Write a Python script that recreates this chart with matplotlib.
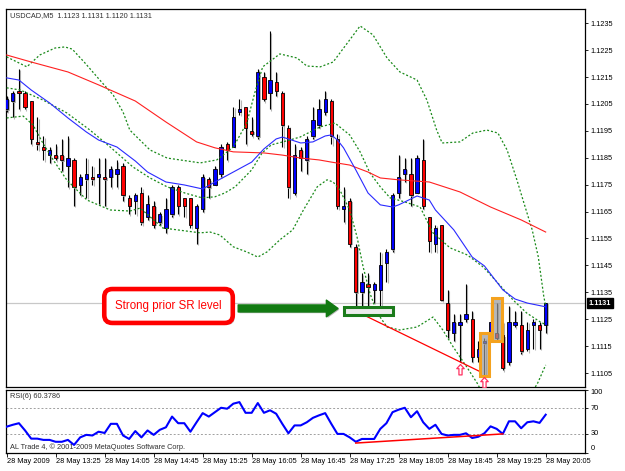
import matplotlib
matplotlib.use("Agg")
import matplotlib.pyplot as plt
import matplotlib.patheffects as pe
from matplotlib.patches import Rectangle
from matplotlib.path import Path
from matplotlib.transforms import blended_transform_factory
import numpy as np

plt.rcParams["font.family"] = ["Liberation Sans", "DejaVu Sans"]

# ── USDCAD M5, 28 May 2009 12:45 .. 20:05 ─────────────────────────────────
opens = [1.1203, 1.1206, 1.1210, 1.1209, 1.1206, 1.1191, 1.1189, 1.1186, 1.1186, 1.1186,
         1.1182, 1.1184, 1.1175, 1.1177, 1.1178, 1.1178, 1.1178, 1.1178, 1.1179, 1.1182,
         1.1170, 1.1169, 1.1172, 1.1163, 1.1167, 1.1161, 1.1159, 1.1164, 1.1174, 1.1170,
         1.1170, 1.1159, 1.1166, 1.1177, 1.1175, 1.1179, 1.1190, 1.1189, 1.1202, 1.1204,
         1.1195, 1.1193, 1.1215, 1.1209, 1.1213, 1.1209, 1.1196, 1.1172, 1.1188, 1.1184,
         1.1193, 1.1197, 1.1202, 1.1206, 1.1192, 1.1166, 1.1169, 1.1152, 1.1135, 1.1138,
         1.1136, 1.1136, 1.1146, 1.1151, 1.1172, 1.1179, 1.1179, 1.1172, 1.1184, 1.1163,
         1.1153, 1.1160, 1.1131, 1.1120, 1.1123, 1.1125, 1.1125, 1.1111, 1.1116, 1.1118,
         1.1120, 1.1119, 1.1109, 1.1123, 1.1123, 1.1114, 1.1123, 1.1123, 1.1123]
highs = [1.1208, 1.1210, 1.1218, 1.1210, 1.1206, 1.1200, 1.1193, 1.1189, 1.1190, 1.1192,
         1.1193, 1.1185, 1.1179, 1.1185, 1.1182, 1.1185, 1.1185, 1.1182, 1.1184, 1.1183,
         1.1171, 1.1172, 1.1174, 1.1171, 1.1169, 1.1165, 1.1170, 1.1175, 1.1175, 1.1170,
         1.1170, 1.1168, 1.1179, 1.1178, 1.1182, 1.1190, 1.1191, 1.1204, 1.1207, 1.1204,
         1.1200, 1.1218, 1.1217, 1.1232, 1.1217, 1.1210, 1.1197, 1.1190, 1.1189, 1.1193,
         1.1204, 1.1207, 1.1210, 1.1207, 1.1194, 1.1174, 1.1170, 1.1153, 1.1142, 1.1142,
         1.1139, 1.1150, 1.1151, 1.1172, 1.1186, 1.1185, 1.1185, 1.1186, 1.1192, 1.1163,
         1.1160, 1.1160, 1.1136, 1.1127, 1.1127, 1.1138, 1.1128, 1.1117, 1.1118, 1.1131,
         1.1131, 1.1124, 1.1130, 1.1128, 1.1128, 1.1124, 1.1125, 1.1124, 1.1131]
lows = [1.1202, 1.1200, 1.1203, 1.1203, 1.1190, 1.1188, 1.1184, 1.1183, 1.1184, 1.1180,
        1.1174, 1.1167, 1.1171, 1.1170, 1.1175, 1.1168, 1.1167, 1.1174, 1.1174, 1.1169,
        1.1164, 1.1164, 1.1160, 1.1162, 1.1159, 1.1160, 1.1157, 1.1163, 1.1164, 1.1163,
        1.1159, 1.1153, 1.1165, 1.1170, 1.1175, 1.1178, 1.1184, 1.1189, 1.1201, 1.1190,
        1.1193, 1.1192, 1.1206, 1.1203, 1.1208, 1.1189, 1.1170, 1.1171, 1.1180, 1.1179,
        1.1192, 1.1196, 1.1201, 1.1190, 1.1166, 1.1161, 1.1152, 1.1128, 1.1129, 1.1128,
        1.1131, 1.1128, 1.1139, 1.1150, 1.1170, 1.1176, 1.1167, 1.1172, 1.1166, 1.1150,
        1.1150, 1.1132, 1.1118, 1.1117, 1.1109, 1.1124, 1.1109, 1.1109, 1.1104, 1.1117,
        1.1117, 1.1106, 1.1108, 1.1122, 1.1112, 1.1113, 1.1114, 1.1114, 1.1120]
closes = [1.1207, 1.1209, 1.1209, 1.1204, 1.1192, 1.1190, 1.1188, 1.1188, 1.1185, 1.1184,
          1.1185, 1.1174, 1.1178, 1.1179, 1.1177, 1.1179, 1.1177, 1.1181, 1.1181, 1.1171,
          1.1167, 1.1171, 1.1161, 1.1168, 1.1160, 1.1164, 1.1166, 1.1174, 1.1167, 1.1167,
          1.1160, 1.1167, 1.1178, 1.1174, 1.1181, 1.1189, 1.1188, 1.1200, 1.1203, 1.1196,
          1.1194, 1.1217, 1.1207, 1.1214, 1.1210, 1.1197, 1.1174, 1.1186, 1.1185, 1.1192,
          1.1199, 1.1203, 1.1207, 1.1193, 1.1167, 1.1167, 1.1153, 1.1135, 1.1139, 1.1137,
          1.1138, 1.1145, 1.1150, 1.1171, 1.1178, 1.1181, 1.1171, 1.1185, 1.1167, 1.1154,
          1.1159, 1.1132, 1.1121, 1.1124, 1.1124, 1.1127, 1.1111, 1.1114, 1.1117, 1.1124,
          1.1118, 1.1107, 1.1124, 1.1124, 1.1113, 1.1121, 1.1124, 1.1121, 1.1131]

# indicator lines, sampled along the picture (bar index, price)
ma_fast_bar = [0, 2, 4, 7, 10, 13, 15, 18, 21, 23, 26, 29, 32, 34, 37, 40, 42, 44, 45, 46, 48,
               50, 52, 53, 54, 55, 57, 59, 61, 63, 64, 66, 67, 69, 70, 73, 76, 78, 81, 83, 85, 88]
ma_fast = [1.12147, 1.12139, 1.12102, 1.12054, 1.11998, 1.11946, 1.11916, 1.11890, 1.11838,
           1.11797, 1.11760, 1.11749, 1.11734, 1.11760, 1.11797, 1.11834, 1.11883, 1.11920,
           1.11927, 1.11920, 1.11905, 1.11909, 1.11931, 1.11935, 1.11916, 1.11887, 1.11805,
           1.11719, 1.11675, 1.11667, 1.11675, 1.11697, 1.11708, 1.11693, 1.11656, 1.11582,
           1.11481, 1.11448, 1.11359, 1.11325, 1.11310, 1.11296]
ma_slow_bar = [0, 4, 10, 15, 21, 26, 31, 34, 37, 42, 45, 48, 51, 53, 56, 59, 61, 64, 69, 74,
               79, 84, 88]
ma_slow = [1.12232, 1.12206, 1.12169, 1.12121, 1.12061, 1.11983, 1.11909, 1.11887, 1.11872,
           1.11868, 1.11860, 1.11849, 1.11842, 1.11834, 1.11823, 1.11797, 1.11775, 1.11768,
           1.11760, 1.11723, 1.11667, 1.11619, 1.11574]
bb_up_bar = [0, 3.3, 5.4, 7.9, 9.5, 10.7, 12.8, 15.2, 17.4, 19.0, 20.1, 23.4, 26.2, 31.6,
             34.3, 37.0, 39.2, 40.5, 41.8, 44.6, 47.4, 49.0, 51.2, 53.3, 56.0, 57.7, 59.8,
             62.1, 64.2, 67.0, 68.6, 70.2, 71.1, 74.0, 76.1, 78.4, 80.2, 81.7, 83.3, 84.3,
             85.8, 86.8, 87.7, 88]
bb_up = [1.12225, 1.12188, 1.12232, 1.12258, 1.12262, 1.12254, 1.12202, 1.12139, 1.12083,
         1.12020, 1.11953, 1.11879, 1.11849, 1.11831, 1.11842, 1.11890, 1.11979, 1.12091,
         1.12188, 1.12236, 1.12221, 1.12191, 1.12188, 1.12206, 1.12288, 1.12340, 1.12307,
         1.12221, 1.12169, 1.12139, 1.12065, 1.11953, 1.11905, 1.11909, 1.11942, 1.11953,
         1.11942, 1.11879, 1.11768, 1.11693, 1.11582, 1.11481, 1.11333, 1.11300]
bb_mid_bar = [0, 2.2, 5.9, 9.8, 13.6, 16.9, 20.6, 23.4, 26.2, 29.1, 31.9, 34.0, 35.6, 37.3,
              40.0, 41.7, 43.2, 45.1, 47.9, 51.2, 53.6, 56.0, 57.7, 59.3, 61.0, 62.6, 65.0,
              67.5, 69.6, 72.4, 75.2, 77.8, 80.5, 82.7, 84.9, 87.1, 88]
bb_mid = [1.12110, 1.12102, 1.12065, 1.12017, 1.11953, 1.11890, 1.11816, 1.11775, 1.11742,
          1.11719, 1.11701, 1.11705, 1.11719, 1.11742, 1.11805, 1.11868, 1.11898, 1.11909,
          1.11927, 1.11965, 1.11979, 1.11935, 1.11872, 1.11794, 1.11742, 1.11701, 1.11686,
          1.11667, 1.11571, 1.11515, 1.11489, 1.11444, 1.11377, 1.11321, 1.11273, 1.11240,
          1.11230]
bb_low_bar = [0, 2.7, 4.3, 5.9, 7.6, 9.8, 13.1, 16.9, 20.1, 21.8, 25.5, 31.6, 33.2, 34.8,
              37.0, 39.2, 41.0, 42.5, 44.6, 46.7, 48.4, 50.7, 52.3, 53.3, 54.4, 56.0, 57.2,
              58.2, 59.3, 60.5, 62.1, 64.2, 67.0, 69.6, 71.2, 72.9, 75.1, 76.8, 78.5, 81,
              84, 86.7, 88]
bb_low = [1.11998, 1.12005, 1.11972, 1.11905, 1.11842, 1.11768, 1.11693, 1.11656, 1.11652,
          1.11663, 1.11589, 1.11571, 1.11574, 1.11563, 1.11519, 1.11500, 1.11481, 1.11500,
          1.11545, 1.11582, 1.11654, 1.11742, 1.11768, 1.11760, 1.11730, 1.11656, 1.11556,
          1.11444, 1.11347, 1.11273, 1.11221, 1.11210, 1.11221, 1.11258, 1.11210, 1.11147,
          1.11073, 1.11013, 1.10940, 1.10900, 1.10910, 1.11013, 1.11080]

rsi = [41, 44, 46.5, 35, 22, 22, 20, 20, 17, 17, 20, 12, 24, 28, 27, 33, 31, 45.5, 45.5, 27,
       21.5, 34, 24, 35, 28, 36, 40, 57, 46.5, 46.5, 33, 48, 62.5, 57, 64, 71, 69.5, 77.5, 80,
       63, 63, 78.5, 63, 67, 61.5, 45.5, 30.5, 43, 43, 48, 55, 59, 62.5, 45.5, 29.5, 29.5, 24,
       17, 21.5, 21.5, 21.5, 37.5, 46.5, 64, 68, 71, 56, 65.5, 48, 37.5, 44, 29.5, 27, 28, 28,
       30.5, 23, 25, 30.5, 41.5, 37.5, 29.5, 49.5, 49.5, 38.5, 48, 49.5, 47, 60]

price_ticks = [1.1105, 1.1115, 1.1125, 1.1135, 1.1145, 1.1155, 1.1165, 1.1175, 1.1185,
               1.1195, 1.1205, 1.1215, 1.1225, 1.1235]
rsi_ticks = [0, 30, 70, 100]
time_tick_bars = [0, 8, 16, 24, 32, 40, 48, 56, 64, 72, 80, 88]
time_labels = ["28 May 2009", "28 May 13:25", "28 May 14:05", "28 May 14:45",
               "28 May 15:25", "28 May 16:05", "28 May 16:45", "28 May 17:25",
               "28 May 18:05", "28 May 18:45", "28 May 19:25", "28 May 20:05"]

# trader's drawings
trend_bars = [57, 77.3]
trend_prices = [1.1128, 1.11055]
rsi_trend_bars = [57, 81]
rsi_trend_vals = [15, 29.5]
sr_level = 1.1128
marked_bars = [78, 80]      # orange boxes
arrow_bars = [74, 78]       # hollow up arrows

# ── Colours ───────────────────────────────────────────────────────────────
C_BULL = "#0000ff"
C_BEAR = "#ff0000"
C_BAND = "#1a8a1a"
C_ORANGE = "#f4a21e"
C_SR = "#1b7b1b"

W, H = 625, 471
fig = plt.figure(figsize=(W / 100, H / 100), dpi=100)
fig.patch.set_facecolor("white")


def px_axes(l, t, r, b):
    return fig.add_axes([l / W, 1 - b / H, (r - l) / W, (b - t) / H])


ax = px_axes(6, 9, 585, 387)
ax2 = px_axes(6, 389.5, 585, 452.5)

shadow_p = [pe.SimplePatchShadow(offset=(0.9, -0.9), shadow_rgbFace="0.6", alpha=0.7), pe.Normal()]
shadow_l = [pe.SimpleLineShadow(offset=(0.9, -0.9), shadow_color="0.6", alpha=0.7), pe.Normal()]

# ── Candles ───────────────────────────────────────────────────────────────
x = np.arange(len(closes))
o, hi, lo, c = map(np.array, (opens, highs, lows, closes))
bull = c >= o
ax.axhline(closes[-1], color="#c8c8c8", lw=0.9, zorder=1)
wicks = ax.vlines(x, lo, hi, color="black", lw=0.8, zorder=2)
wicks.set_path_effects(shadow_l)
bars = ax.bar(x, c - o, bottom=o, width=0.52, color=np.where(bull, C_BULL, C_BEAR),
              edgecolor="black", linewidth=0.6, zorder=3)
for b in bars:
    b.set_path_effects(shadow_p)

# ── Indicators ────────────────────────────────────────────────────────────
dots = (0, (1.6, 1.6))
for bx, by in [(bb_up_bar, bb_up), (bb_mid_bar, bb_mid), (bb_low_bar, bb_low)]:
    ax.plot(bx, by, color=C_BAND, lw=0.9, ls=dots, zorder=4)
ax.plot(ma_slow_bar, ma_slow, color="#ff2020", lw=0.8, zorder=4)
ax.plot(ma_fast_bar, ma_fast, color="#2a2aff", lw=0.8, zorder=4)

# ── Drawings ──────────────────────────────────────────────────────────────
ax.plot(trend_bars, trend_prices, color="#ff0000", lw=0.9, zorder=5)

for b in marked_bars:
    r = Rectangle((b - 0.8, lows[b] - 0.00002), 1.6, highs[b] - lows[b] + 0.00022,
                  fc="none", ec=C_ORANGE, lw=2.2, zorder=6)
    r.set_path_effects(shadow_p)
    ax.add_patch(r)

up_arrow = Path([(0, 0), (0.36, -0.4), (0.15, -0.4), (0.15, -1), (-0.15, -1),
                 (-0.15, -0.4), (-0.36, -0.4), (0, 0)], closed=True)
ax.plot(arrow_bars, [lows[b] - 0.00005 for b in arrow_bars], ls="none", marker=up_arrow,
        ms=15, mfc="white", mec="#ff3060", mew=0.9, zorder=6)

sr = Rectangle((55.1, sr_level - 0.00014), 8.0, 0.00028, fc="#ececec", ec=C_SR,
               lw=2.2, zorder=6)
sr.set_path_effects(shadow_p)
ax.add_patch(sr)

ax.annotate("", xy=(54.1, sr_level + 0.0001), xytext=(37.8, sr_level + 0.0001),
            arrowprops=dict(arrowstyle="simple,head_length=0.7,head_width=1.0,tail_width=0.42",
                            color="#127a12", mutation_scale=12, shrinkA=0, shrinkB=0,
                            path_effects=shadow_p),
            zorder=7)

callout = ax.text(0.2807, 0.2143, "Strong prior SR level", transform=ax.transAxes,
                  ha="center", va="center", fontsize=8.3, color="#ff0000", zorder=8,
                  bbox=dict(boxstyle="round,pad=0.95,rounding_size=0.7", fc="white",
                            ec="#ff0000", lw=3.3))
callout.get_bbox_patch().set_path_effects(
    [pe.SimplePatchShadow(offset=(1.5, -1.5), shadow_rgbFace="0.5", alpha=0.5), pe.Normal()])

# ── Texts ─────────────────────────────────────────────────────────────────
ax.text(0.0069, 0.982, f"USDCAD,M5  {opens[-1]:.4f} {highs[-1]:.4f} {lows[-1]:.4f} {closes[-1]:.4f}",
        transform=ax.transAxes, ha="left", va="center", fontsize=5.3, color="#303030")
trans = blended_transform_factory(ax.transAxes, ax.transData)
ax.text(1.006, closes[-1], f"{closes[-1]:.4f}", transform=trans, ha="left", va="center",
        fontsize=5.3, color="white", fontweight="bold", clip_on=False, zorder=20,
        bbox=dict(boxstyle="square,pad=0.25", fc="black", ec="black"))

# ── Main axis styling ─────────────────────────────────────────────────────
ax.set_xlim(-0.11, 94.42)
ax.set_ylim(1.10998, 1.12403)
ax.set_xticks([])
ax.set_yticks(price_ticks)
ax.set_yticklabels([f"{p:.4f}" for p in price_ticks])
ax.tick_params(axis="y", left=False, right=True, labelleft=False, labelright=True,
               length=2.5, width=0.6, pad=1.5, labelsize=5.3)
for s in ax.spines.values():
    s.set_linewidth(0.9)

# ── RSI panel ─────────────────────────────────────────────────────────────
ax2.axhline(70, color="#a0a0a0", lw=0.7, ls=(0, (2, 2)))
ax2.axhline(30, color="#a0a0a0", lw=0.7, ls=(0, (2, 2)))
ax2.plot(x, rsi, color="#0000ff", lw=1.5, zorder=3)
ax2.plot(rsi_trend_bars, rsi_trend_vals, color="#ff0000", lw=1.1, zorder=4)
ax2.text(0.0069, 0.886, "RSI(6) 60.3786", transform=ax2.transAxes, ha="left", va="center",
         fontsize=5.3, color="#303030")
ax2.text(0.0069, 0.08, "AL Trade 4, \u00a9 2001-2009 MetaQuotes Software Corp.",
         transform=ax2.transAxes, ha="left", va="center", fontsize=5.3, color="#303030")
ax2.set_xlim(-0.11, 94.42)
ax2.set_ylim(0, 100)
ax2.set_yticks(rsi_ticks)
ax2.set_yticklabels([str(v) for v in rsi_ticks])
ax2.tick_params(axis="y", left=False, right=True, labelleft=False, labelright=True,
                length=2.5, width=0.6, pad=1.5, labelsize=5.3)
for t, v in zip(ax2.get_yticklabels(), rsi_ticks):
    t.set_va("top" if v == 100 else "bottom" if v == 0 else "center")
ax2.set_xticks(time_tick_bars)
ax2.set_xticklabels(time_labels)
ax2.tick_params(axis="x", length=3, width=0.6, pad=0.8, labelsize=5.3)
for t in ax2.get_xticklabels():
    t.set_ha("left")
for s in ax2.spines.values():
    s.set_linewidth(0.9)

fig.savefig("out.png", dpi=100, facecolor="white")
